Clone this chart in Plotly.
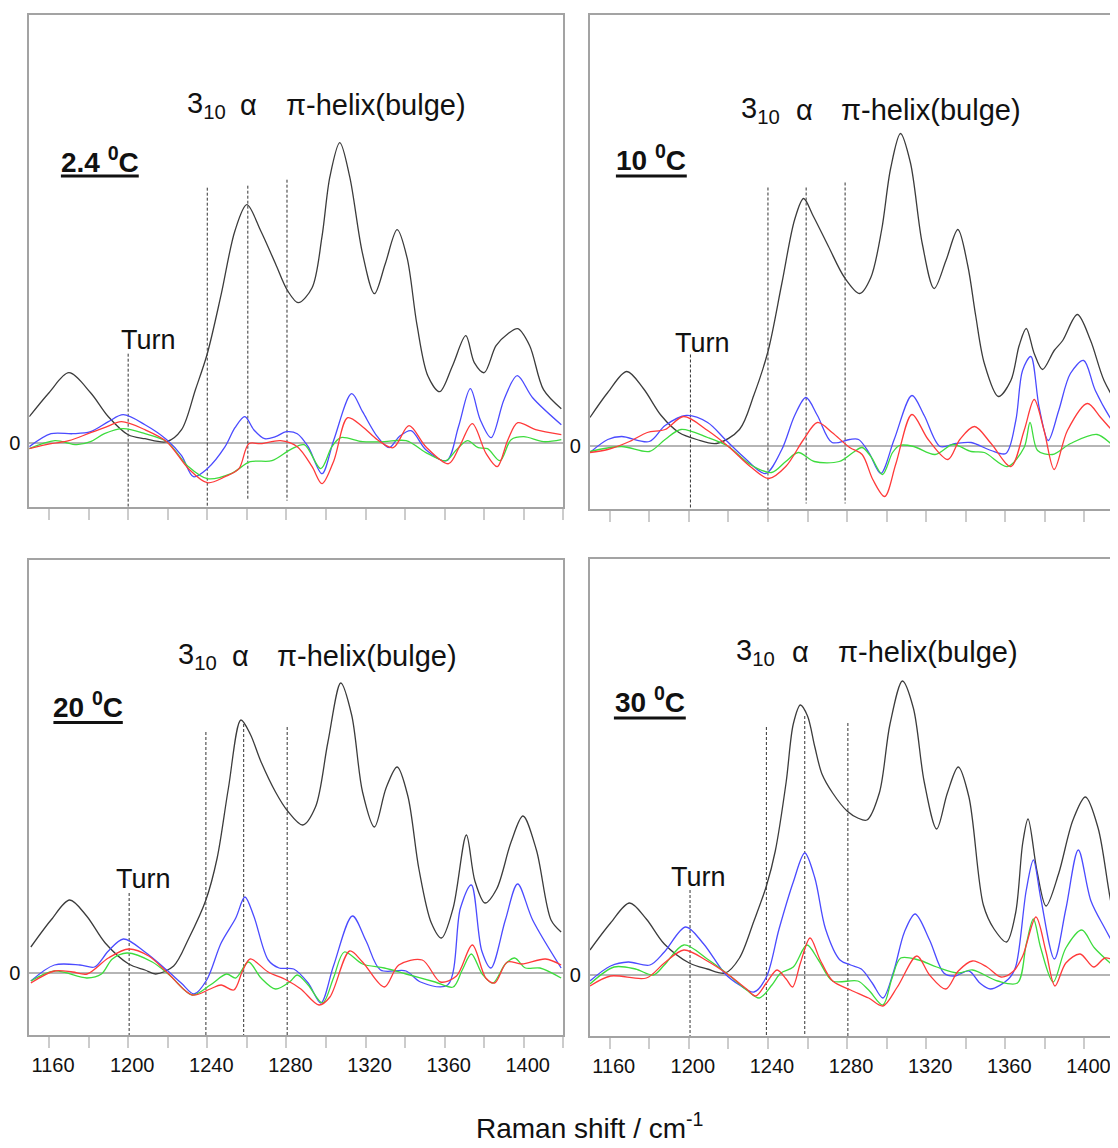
import plotly.graph_objects as go

# ---------------- data (x = Raman shift / cm-1, y = intensity, arbitrary units) ----------------
# Panel 1: 2.4 °C
P1_BLACK_X = [1150, 1160, 1170, 1181, 1190, 1200, 1208.5, 1219.5, 1227, 1234, 1240, 1247, 1254, 1260, 1267, 1274.5, 1280.6, 1286, 1293, 1298, 1302, 1307, 1312, 1318.5, 1324.5, 1330, 1336, 1341, 1346, 1351.5, 1357.5, 1364, 1370.7, 1375, 1380, 1386, 1392, 1397, 1403, 1410, 1419]
P1_BLACK_Y = [0.26, 0.50, 0.70, 0.50, 0.26, 0.08, 0.04, 0.01, 0.13, 0.53, 0.89, 1.48, 2.12, 2.38, 2.12, 1.79, 1.52, 1.40, 1.55, 2.06, 2.66, 3.00, 2.66, 1.89, 1.49, 1.79, 2.13, 1.85, 1.18, 0.67, 0.51, 0.77, 1.07, 0.80, 0.70, 0.97, 1.09, 1.14, 0.97, 0.53, 0.34]
P1_BLUE_X = [1150, 1161, 1172, 1181, 1190, 1197.5, 1208.5, 1219.5, 1227, 1233, 1240, 1249, 1254, 1259, 1263.5, 1269, 1274.5, 1280, 1285.5, 1291, 1298, 1304, 1313, 1318.5, 1326, 1332, 1337, 1343, 1350.5, 1361, 1367, 1373, 1378, 1383.5, 1390, 1396.7, 1404.5, 1419]
P1_BLUE_Y = [-0.04, 0.09, 0.09, 0.11, 0.21, 0.28, 0.18, 0.03, -0.13, -0.34, -0.26, -0.04, 0.15, 0.26, 0.13, 0.04, 0.06, 0.11, 0.09, -0.04, -0.31, 0.03, 0.49, 0.31, 0.06, -0.05, 0.06, 0.12, -0.07, -0.18, 0.16, 0.54, 0.23, 0.05, 0.43, 0.67, 0.45, 0.18]
P1_RED_X = [1150, 1161, 1170, 1181, 1188, 1196.6, 1208.5, 1219.5, 1230.5, 1240, 1249, 1256, 1261, 1267, 1277, 1285.5, 1293, 1298, 1304, 1311, 1318.5, 1326, 1334, 1342, 1350.5, 1362, 1367.5, 1374, 1381, 1386.6, 1392, 1397, 1406, 1419]
P1_RED_Y = [-0.06, -0.01, 0.02, 0.10, 0.15, 0.21, 0.13, 0.01, -0.26, -0.40, -0.34, -0.26, -0.01, -0.01, 0.02, -0.04, -0.24, -0.41, -0.18, 0.25, 0.16, 0.03, -0.05, 0.17, -0.04, -0.21, -0.04, 0.19, -0.11, -0.24, 0.03, 0.20, 0.13, 0.08]
P1_GREEN_X = [1150, 1163, 1174, 1181, 1188, 1197.5, 1208.5, 1219.5, 1230.5, 1240, 1252, 1261.7, 1272.7, 1282, 1289, 1297.4, 1303, 1307.5, 1318.5, 1329.5, 1340.5, 1351.5, 1360.6, 1366, 1371.6, 1377, 1381.7, 1388, 1393.6, 1400, 1410, 1419]
P1_GREEN_Y = [-0.06, 0.02, -0.02, 0.01, 0.09, 0.14, 0.09, 0.01, -0.24, -0.36, -0.31, -0.19, -0.18, -0.07, -0.02, -0.26, -0.04, 0.05, 0.01, 0.01, 0.02, -0.11, -0.18, -0.07, 0.02, -0.05, -0.06, -0.18, 0.03, 0.06, 0.01, 0.03]

# Panel 2: 10 °C
P2_BLACK_X = [1150, 1159, 1168.6, 1177, 1186, 1195, 1204, 1214, 1225.6, 1232.8, 1240, 1247, 1253.5, 1258, 1263, 1270.6, 1278.7, 1286.4, 1292, 1297.5, 1302, 1307, 1312, 1318, 1324, 1330, 1336, 1341, 1345, 1349.4, 1356.5, 1362.8, 1367, 1370.6, 1374.6, 1378.8, 1384.7, 1389, 1396.4, 1403.1, 1409.9, 1420]
P2_BLACK_Y = [0.28, 0.53, 0.74, 0.57, 0.30, 0.13, 0.06, 0.02, 0.16, 0.50, 0.94, 1.62, 2.26, 2.47, 2.29, 1.99, 1.68, 1.52, 1.68, 2.16, 2.77, 3.12, 2.83, 2.02, 1.57, 1.85, 2.16, 1.80, 1.30, 0.82, 0.49, 0.65, 1.00, 1.17, 0.92, 0.76, 0.95, 1.05, 1.31, 1.05, 0.65, 0.30]
P2_BLUE_X = [1150, 1159, 1166, 1180, 1188, 1198.7, 1209.5, 1218.4, 1227.4, 1238.7, 1247, 1253.5, 1259.2, 1265, 1272.4, 1281.3, 1285.8, 1291, 1297, 1303.8, 1312.8, 1319, 1327, 1335, 1342.7, 1352.8, 1360.3, 1365.3, 1368.7, 1372.9, 1377.1, 1381.7, 1387, 1392.9, 1399.6, 1405.5, 1415.6, 1420]
P2_BLUE_Y = [-0.07, 0.06, 0.09, 0.04, 0.20, 0.30, 0.23, 0.06, -0.11, -0.28, -0.04, 0.30, 0.48, 0.30, 0.03, 0.06, 0.06, -0.07, -0.28, 0.06, 0.50, 0.30, -0.01, 0.02, 0.03, -0.05, -0.08, 0.25, 0.75, 0.89, 0.38, 0.05, 0.35, 0.72, 0.85, 0.55, 0.20, 0.10]
P2_RED_X = [1150, 1159, 1170, 1179, 1188, 1197.4, 1209.5, 1220, 1231, 1240.4, 1249, 1258, 1265, 1272.4, 1281.3, 1287.6, 1293, 1299, 1304.7, 1312.8, 1321, 1331, 1337, 1344.4, 1352.8, 1362.8, 1369.5, 1374.6, 1379.6, 1384.7, 1391.4, 1401.5, 1408.2, 1415.6, 1420]
P2_RED_Y = [-0.07, -0.04, 0.04, 0.13, 0.16, 0.29, 0.15, -0.01, -0.21, -0.33, -0.21, 0.06, 0.23, 0.13, -0.02, -0.09, -0.34, -0.51, -0.18, 0.31, 0.06, -0.14, 0.06, 0.19, 0.02, -0.21, 0.15, 0.46, 0.15, -0.24, 0.15, 0.42, 0.28, 0.12, 0.06]
P2_GREEN_X = [1150, 1166, 1180, 1188, 1196, 1209.5, 1220, 1231, 1241.8, 1249, 1255.3, 1263.4, 1276, 1283, 1287.6, 1292, 1297.9, 1303, 1306.5, 1313.7, 1324.5, 1333.5, 1342.7, 1349.4, 1361, 1369.5, 1372.5, 1376.3, 1383.8, 1393, 1406.4, 1415.6, 1420]
P2_GREEN_Y = [-0.06, -0.01, -0.06, 0.06, 0.16, 0.08, -0.01, -0.19, -0.27, -0.16, -0.07, -0.16, -0.16, -0.07, -0.02, -0.11, -0.29, -0.07, 0.00, -0.01, -0.09, 0.01, -0.06, -0.07, -0.21, -0.02, 0.23, -0.05, -0.09, 0.02, 0.11, -0.01, -0.02]

# Panel 3: 20 °C
P3_BLACK_X = [1150.8, 1161, 1170.4, 1179, 1188.4, 1200.3, 1208.5, 1214, 1223, 1230.5, 1239.3, 1245, 1250.7, 1257, 1261.7, 1267, 1274.5, 1280.6, 1288.2, 1294.7, 1301, 1307.5, 1313, 1318.5, 1324.5, 1330.4, 1336, 1341.4, 1347, 1353.3, 1358.4, 1364.3, 1371, 1375.3, 1380.4, 1386.3, 1393.6, 1399.6, 1406.4, 1413.8, 1418.9]
P3_BLACK_Y = [0.26, 0.53, 0.73, 0.57, 0.30, 0.09, 0.03, -0.01, 0.07, 0.34, 0.73, 1.15, 1.85, 2.53, 2.39, 2.12, 1.81, 1.62, 1.48, 1.66, 2.31, 2.90, 2.58, 1.81, 1.46, 1.85, 2.06, 1.77, 1.04, 0.50, 0.35, 0.65, 1.38, 0.92, 0.70, 0.84, 1.31, 1.57, 1.23, 0.53, 0.41]
P3_BLUE_X = [1150.8, 1162.7, 1175.6, 1183, 1190, 1197.6, 1208.5, 1219.5, 1226.8, 1233.3, 1239.7, 1247, 1254.4, 1259, 1263.5, 1270.8, 1276.3, 1283.7, 1291, 1297.4, 1303.8, 1313.4, 1320.3, 1327.6, 1340.5, 1347.8, 1361.5, 1368, 1373.5, 1378.8, 1383.4, 1390.7, 1396.9, 1404.5, 1418.9]
P3_BLUE_Y = [-0.08, 0.08, 0.08, 0.06, 0.22, 0.34, 0.21, 0.03, -0.10, -0.21, -0.07, 0.30, 0.55, 0.76, 0.57, 0.13, 0.05, 0.04, -0.10, -0.30, 0.07, 0.57, 0.32, 0.03, 0.02, -0.09, -0.12, 0.65, 0.88, 0.22, 0.05, 0.53, 0.89, 0.53, 0.05]
P3_RED_X = [1150.8, 1162.7, 1171.9, 1179.2, 1190, 1200.3, 1210.4, 1219.5, 1232.4, 1241.5, 1247, 1253.4, 1258, 1261.7, 1270.8, 1280, 1287.3, 1296.5, 1302, 1312, 1318.5, 1329.5, 1336.8, 1348.7, 1357.9, 1366, 1374, 1380.8, 1385.3, 1391.7, 1399, 1411, 1418.9]
P3_RED_Y = [-0.10, 0.02, 0.01, -0.01, 0.15, 0.24, 0.17, 0.01, -0.22, -0.16, -0.12, -0.17, 0.03, 0.14, 0.01, -0.07, -0.16, -0.32, -0.24, 0.22, 0.11, -0.14, 0.08, 0.13, -0.09, -0.03, 0.28, -0.05, -0.10, 0.11, 0.09, 0.14, 0.08]
P3_GREEN_X = [1150.8, 1162.7, 1179.2, 1186.5, 1192, 1199.4, 1212.2, 1221.4, 1232.4, 1241.5, 1249.8, 1254.4, 1260.8, 1267.2, 1274.5, 1281.6, 1285.5, 1291, 1298.3, 1303.8, 1309.3, 1318.5, 1329.5, 1340.5, 1355.2, 1364.3, 1368.9, 1373.5, 1379, 1384.4, 1390.7, 1395.4, 1400.9, 1408.2, 1418.9]
P3_GREEN_Y = [-0.08, 0.02, -0.05, -0.01, 0.14, 0.20, 0.11, -0.03, -0.22, -0.12, -0.01, -0.05, 0.11, -0.05, -0.16, -0.09, -0.02, -0.12, -0.30, -0.05, 0.21, 0.09, 0.05, -0.01, -0.09, -0.14, 0.03, 0.19, -0.01, -0.10, 0.09, 0.15, 0.05, 0.05, -0.05]

# Panel 4: 30 °C
P4_BLACK_X = [1150, 1160.4, 1170, 1178.5, 1187.6, 1200.2, 1209.3, 1218.4, 1225.6, 1232.9, 1239.2, 1243.7, 1249.2, 1252.8, 1256.4, 1260, 1263.7, 1267.3, 1272.7, 1280, 1285.4, 1290, 1296.3, 1301.7, 1308, 1313.5, 1319, 1325.3, 1330.7, 1336.2, 1341.6, 1348.9, 1354.3, 1360.6, 1365.2, 1368.8, 1371.5, 1376, 1380.6, 1386.9, 1394.2, 1400.5, 1406.9, 1414.1, 1420]
P4_BLACK_Y = [0.25, 0.52, 0.72, 0.56, 0.31, 0.12, 0.06, 0.02, 0.17, 0.54, 0.89, 1.24, 1.93, 2.51, 2.70, 2.59, 2.28, 2.01, 1.82, 1.64, 1.57, 1.55, 1.82, 2.51, 2.94, 2.67, 1.93, 1.46, 1.82, 2.08, 1.78, 0.70, 0.46, 0.33, 0.62, 1.32, 1.56, 1.04, 0.69, 1.01, 1.55, 1.78, 1.47, 0.66, 0.30]
P4_BLUE_X = [1150, 1160.4, 1169.4, 1180.3, 1187.6, 1198.4, 1207.5, 1218.4, 1225.6, 1232.9, 1239.2, 1245.6, 1252.8, 1258.6, 1263.7, 1269.1, 1276.4, 1281.8, 1287.2, 1292.7, 1298.1, 1303.6, 1309, 1314.4, 1321.7, 1328.9, 1334.4, 1341.6, 1347.1, 1352.5, 1361.6, 1365.2, 1370.6, 1374.2, 1377.9, 1384.8, 1390.6, 1396.9, 1403.3, 1410.5, 1420]
P4_BLUE_Y = [-0.06, 0.09, 0.13, 0.10, 0.23, 0.48, 0.31, 0.01, -0.10, -0.17, -0.02, 0.46, 0.93, 1.22, 0.97, 0.46, 0.15, 0.10, 0.06, -0.08, -0.23, 0.04, 0.43, 0.61, 0.35, 0.02, -0.01, 0.04, -0.08, -0.14, -0.04, 0.08, 0.85, 1.15, 0.77, 0.16, 0.66, 1.25, 0.74, 0.46, 0.12]
P4_RED_X = [1150, 1160.4, 1178.5, 1187.6, 1197.5, 1209.3, 1220.2, 1229.2, 1233.8, 1239.2, 1244.6, 1249.2, 1252.4, 1256.4, 1261.3, 1266.4, 1272.7, 1281.8, 1290.9, 1298.1, 1305.4, 1315.3, 1321.7, 1329.9, 1336.2, 1343.4, 1350.7, 1357.9, 1364.2, 1368.8, 1375.5, 1380.6, 1385.1, 1390.6, 1397.8, 1404.7, 1410.5, 1420]
P4_RED_Y = [-0.11, -0.01, -0.03, 0.12, 0.25, 0.14, 0.00, -0.14, -0.21, -0.08, 0.05, -0.04, -0.12, 0.12, 0.37, 0.15, -0.06, -0.15, -0.23, -0.31, -0.12, 0.19, 0.00, -0.14, 0.04, 0.14, 0.08, -0.02, 0.04, 0.19, 0.58, 0.23, -0.11, 0.12, 0.21, 0.08, 0.17, 0.10]
P4_GREEN_X = [1150, 1162.2, 1173, 1182.1, 1187.6, 1197.5, 1209.3, 1220.2, 1229.2, 1235.6, 1242, 1246.5, 1252.8, 1259.7, 1265.5, 1272.7, 1285.4, 1290.9, 1298.1, 1302.6, 1307.1, 1316.2, 1325.3, 1336.2, 1343.4, 1356.1, 1366.1, 1370.6, 1374.2, 1377.9, 1384.2, 1390.6, 1398.7, 1405.1, 1420]
P4_GREEN_Y = [-0.09, 0.08, 0.06, 0.00, 0.10, 0.30, 0.16, 0.00, -0.15, -0.23, -0.10, 0.02, 0.08, 0.30, 0.15, -0.06, -0.06, -0.15, -0.30, -0.04, 0.17, 0.15, 0.08, 0.02, 0.05, -0.06, -0.08, 0.31, 0.56, 0.27, -0.07, 0.27, 0.45, 0.27, 0.00]

# marker (dashed) lines: Turn, 3_10, alpha, pi-helix  -> x position, top, bottom
P1_MARK_X = [1200, 1240, 1260.5, 1280.3]
P1_MARK_TOP = [0.89, 2.55, 2.57, 2.63]
P1_MARK_BOT = [-0.66, -0.66, -0.58, -0.58]
P2_MARK_X = [1200.8, 1240, 1259.3, 1279]
P2_MARK_TOP = [0.91, 2.58, 2.58, 2.63]
P2_MARK_BOT = [-0.66, -0.66, -0.58, -0.58]
P3_MARK_X = [1200.5, 1239.3, 1258.4, 1280.4]
P3_MARK_TOP = [0.80, 2.41, 2.49, 2.46]
P3_MARK_BOT = [-0.64, -0.64, -0.64, -0.64]
P4_MARK_X = [1200.6, 1239.2, 1258.6, 1280.4]
P4_MARK_TOP = [0.85, 2.48, 2.59, 2.52]
P4_MARK_BOT = [-0.63, -0.63, -0.63, -0.63]

TEMPERATURES = ["2.4", "10", "20", "30"]
MAJOR_TICKS = [1160, 1200, 1240, 1280, 1320, 1360, 1400]
MAJOR_TEXT = ["1160", "1200", "1240", "1280", "1320", "1360", "1400"]
MINOR_TICKS = [1180, 1220, 1260, 1300, 1340, 1380, 1420]
BAND_LABELS = ["3<sub>10</sub>", "α", "π-helix(bulge)"]
TURN_LABEL = "Turn"
X_TITLE = "Raman shift / cm<sup>-1</sup>"

# ---------------- styling / layout ----------------
FONT = "Liberation Sans Narrow, Arial Narrow, Liberation Sans, Arial, sans-serif"
REG = "Liberation Sans, Arial, sans-serif"
COLORS = {"black": "#3c3c3c", "blue": "#4b4bff", "red": "#ff3a3a", "green": "#3ddc3d"}
W, H = 1118, 1148
OFF = 8  # the page body margin shifts the figure by 8 px

panels = [
    dict(series=[("black", P1_BLACK_X, P1_BLACK_Y), ("blue", P1_BLUE_X, P1_BLUE_Y),
                 ("green", P1_GREEN_X, P1_GREEN_Y), ("red", P1_RED_X, P1_RED_Y)],
         mark=(P1_MARK_X, P1_MARK_TOP, P1_MARK_BOT),
         xdom=(29.3, 564.3), ydom=(14.7, 506.7), yr=(-0.64, 4.28),
         band_x=[1239.5, 1260.6, 1325.3], band_y=3.38, turn=(1210.4, 1.03), temp=(1185.6, 2.83),
         uline=(61, 139, 176), labels=False),
    dict(series=[("black", P2_BLACK_X, P2_BLACK_Y), ("blue", P2_BLUE_X, P2_BLUE_Y),
                 ("green", P2_GREEN_X, P2_GREEN_Y), ("red", P2_RED_X, P2_RED_Y)],
         mark=(P2_MARK_X, P2_MARK_TOP, P2_MARK_BOT),
         xdom=(591, 1126), ydom=(14.7, 509.3), yr=(-0.638, 4.308),
         band_x=[1236.4, 1258.5, 1322.5], band_y=3.35, turn=(1206.7, 1.02), temp=(1181, 2.87),
         uline=(617, 688, 176), labels=False),
    dict(series=[("black", P3_BLACK_X, P3_BLACK_Y), ("blue", P3_BLUE_X, P3_BLUE_Y),
                 ("green", P3_GREEN_X, P3_GREEN_Y), ("red", P3_RED_X, P3_RED_Y)],
         mark=(P3_MARK_X, P3_MARK_TOP, P3_MARK_BOT),
         xdom=(29.3, 564.3), ydom=(560, 1035), yr=(-0.62, 4.13),
         band_x=[1235, 1257, 1321], band_y=3.17, turn=(1207.6, 0.94), temp=(1179.8, 2.68),
         uline=(53.5, 123, 722.5), labels=True),
    dict(series=[("black", P4_BLACK_X, P4_BLACK_Y), ("blue", P4_BLUE_X, P4_BLUE_Y),
                 ("green", P4_GREEN_X, P4_GREEN_Y), ("red", P4_RED_X, P4_RED_Y)],
         mark=(P4_MARK_X, P4_MARK_TOP, P4_MARK_BOT),
         xdom=(591, 1126), ydom=(559, 1036), yr=(-0.61, 4.16),
         band_x=[1233.8, 1256.4, 1320.8], band_y=3.23, turn=(1204.8, 0.98), temp=(1180.3, 2.75),
         uline=(615, 687, 718), labels=True),
]

fig = go.Figure()
annotations = []
shapes = []
layout_axes = {}
tick_style = dict(ticklen=11, tickwidth=1.5, tickcolor="#cccccc")

for i, p in enumerate(panels, start=1):
    sfx = "" if i == 1 else str(i)
    xa, ya = "x" + sfx, "y" + sfx
    mx, mt, mb = p["mark"]
    for k in range(len(mx)):
        fig.add_trace(go.Scatter(x=[mx[k], mx[k]], y=[mt[k], mb[k]], mode="lines",
                                 line=dict(color="#333333", width=1, dash="3px,2px"),
                                 xaxis=xa, yaxis=ya, hoverinfo="skip", showlegend=False))
    for name, xs, ys in p["series"]:
        fig.add_trace(go.Scatter(x=xs, y=ys, mode="lines",
                                 line=dict(color=COLORS[name], width=1.3, shape="spline", smoothing=0.9),
                                 xaxis=xa, yaxis=ya, hoverinfo="skip", showlegend=False))
    x0, x1 = p["xdom"]
    yt, yb = p["ydom"]
    layout_axes["xaxis" + sfx] = dict(
        domain=[(x0 - OFF) / W, min(1.0, (x1 - OFF) / W)], range=[1150, 1420], anchor=ya,
        showline=True, linecolor="#a3a3a3", linewidth=2, mirror=True,
        ticks="outside", tickvals=MAJOR_TICKS, ticktext=MAJOR_TEXT, showticklabels=p["labels"],
        minor=dict(tickmode="array", tickvals=MINOR_TICKS, ticks="outside", **tick_style),
        tickfont=dict(family=REG, size=20, color="#111111"), ticklabelshift=4,
        showgrid=False, zeroline=False, fixedrange=True, **tick_style)
    layout_axes["yaxis" + sfx] = dict(
        domain=[1 - (yb - OFF) / H, 1 - (yt - OFF) / H], range=list(p["yr"]), anchor=xa,
        showline=True, linecolor="#a3a3a3", linewidth=2, mirror=True,
        ticks="", tickvals=[0], ticktext=["0"], ticklabelstandoff=3,
        tickfont=dict(family=REG, size=20, color="#111111"),
        showgrid=False, zeroline=True, zerolinecolor="#b5b5b5", zerolinewidth=1.5, fixedrange=True)
    for k, txt in enumerate(BAND_LABELS):
        annotations.append(dict(x=p["band_x"][k], y=p["band_y"], xref=xa, yref=ya, text=txt,
                                showarrow=False, xanchor="center", yanchor="middle",
                                font=dict(family=FONT, size=29, color="#111111")))
    annotations.append(dict(x=p["turn"][0], y=p["turn"][1], xref=xa, yref=ya, text=TURN_LABEL,
                            showarrow=False, xanchor="center", yanchor="middle",
                            font=dict(family=FONT, size=27, color="#111111")))
    annotations.append(dict(x=p["temp"][0], y=p["temp"][1], xref=xa, yref=ya,
                            text="<b>" + TEMPERATURES[i - 1] + " <sup>0</sup>C</b>",
                            showarrow=False, xanchor="center", yanchor="middle",
                            font=dict(family=FONT, size=28, color="#111111")))
    ux0, ux1, uy = p["uline"]
    shapes.append(dict(type="line", xref="paper", yref="paper",
                       x0=(ux0 - OFF) / W, x1=(ux1 - OFF) / W,
                       y0=1 - (uy - OFF) / H, y1=1 - (uy - OFF) / H,
                       line=dict(color="#111111", width=3)))

annotations.append(dict(x=(591 - OFF) / W, y=1 - (1126 - OFF) / H, xref="paper", yref="paper",
                        text=X_TITLE, showarrow=False, xanchor="center", yanchor="middle",
                        font=dict(family=FONT, size=28, color="#111111")))

fig.update_layout(width=W, height=H, margin=dict(l=0, r=0, t=0, b=0),
                  plot_bgcolor="white", paper_bgcolor="white", showlegend=False,
                  annotations=annotations, shapes=shapes, **layout_axes)

fig.write_html("out.html")
